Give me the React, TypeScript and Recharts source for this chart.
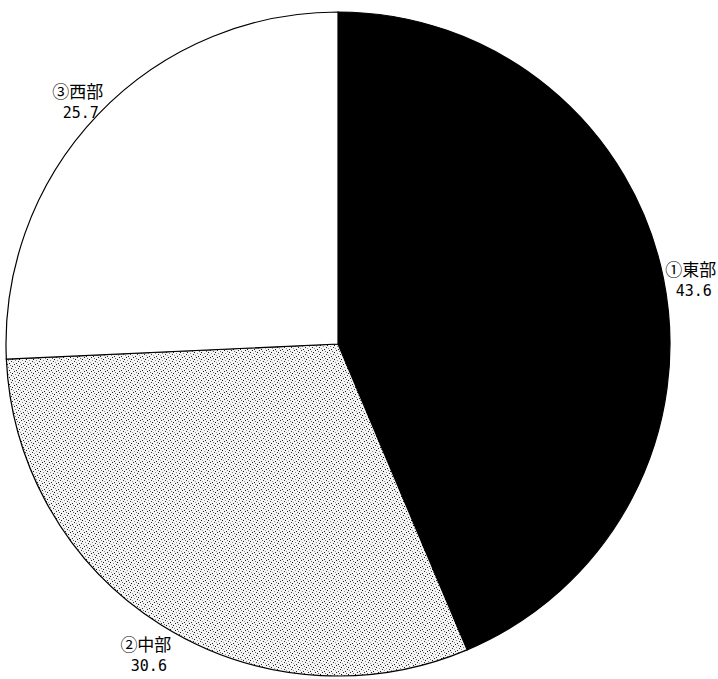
import { Pie, PieChart } from "recharts";

const regions = ["①東部", "②中部", "③西部"];
const shares = [43.6, 30.6, 25.7];
const fills = ["#000000", "url(#stipple)", "#ffffff"];

const chartData = regions.map((name, i) => ({ name, value: shares[i], fill: fills[i] }));

const RADIAN = Math.PI / 180;
const nameFont = '"Noto Sans CJK JP", sans-serif';
const valueFont = '"DejaVu Sans Mono", monospace';

function renderLabel(props: any) {
  const { cx, cy, midAngle, outerRadius, index } = props;
  const r = outerRadius + 28;
  const x = cx + r * Math.cos(-midAngle * RADIAN);
  const y = cy + r * Math.sin(-midAngle * RADIAN);
  return (
    <g key={`lbl-${index}`}>
      <text x={x} y={y + 3} textAnchor="middle" fill="#000" fontSize={17} fontFamily={nameFont}>
        {regions[index]}
      </text>
      <text x={x + 3} y={y + 23} textAnchor="middle" fill="#000" fontSize={15} fontFamily={valueFont}>
        {shares[index].toFixed(1)}
      </text>
    </g>
  );
}

export default function App() {
  return (
    <div style={{ position: "absolute", left: 0, top: 0, width: 718, height: 679, background: "#fff" }}>
      <PieChart width={718} height={679} margin={{ top: 0, right: 0, bottom: 0, left: 0 }}>
        <defs>
          <pattern id="stipple" width="7" height="7" patternUnits="userSpaceOnUse">
            <rect width="7" height="7" fill="#f4f4f4" />
            <rect x="0" y="0" width="1" height="1" fill="#222" />
            <rect x="3" y="1" width="1" height="1" fill="#666" />
            <rect x="5" y="2" width="1" height="1" fill="#111" />
            <rect x="1" y="3" width="1" height="1" fill="#888" />
            <rect x="4" y="4" width="1" height="1" fill="#333" />
            <rect x="6" y="5" width="1" height="1" fill="#999" />
            <rect x="2" y="6" width="1" height="1" fill="#222" />
          </pattern>
        </defs>
        <Pie
          data={chartData}
          dataKey="value"
          nameKey="name"
          cx={338}
          cy={344}
          outerRadius={332}
          startAngle={90}
          endAngle={-270}
          stroke="#000"
          strokeWidth={1.2}
          label={renderLabel}
          labelLine={false}
          isAnimationActive={false}
        />
      </PieChart>
    </div>
  );
}
